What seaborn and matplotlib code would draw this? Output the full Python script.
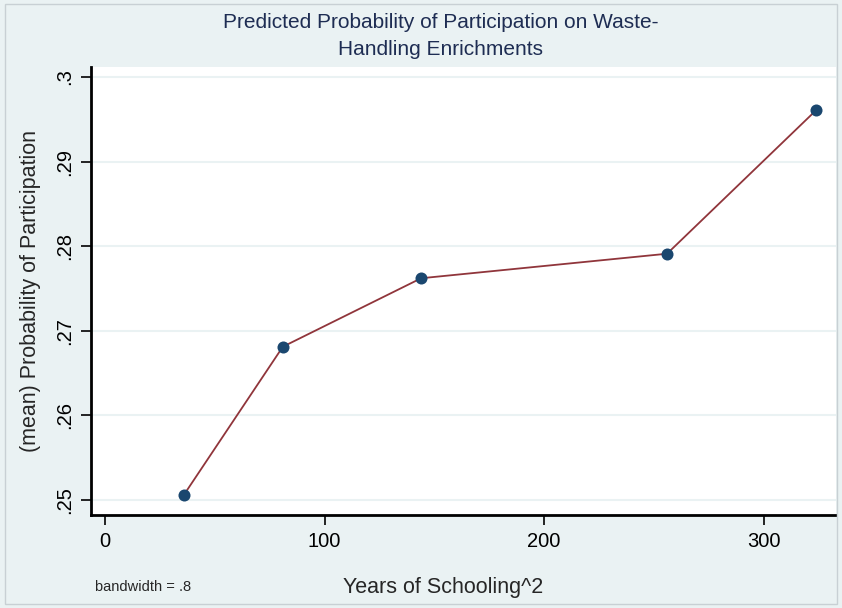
import seaborn as sns
import numpy as np
import pandas as pd
import matplotlib.pyplot as plt
from matplotlib.patches import Rectangle

# data
years_sq = [36, 81, 144, 256, 324]
prob = [0.2506, 0.2681, 0.2762, 0.2791, 0.2961]

x_ticks = [0, 100, 200, 300]
y_ticks = [0.25, 0.26, 0.27, 0.28, 0.29, 0.30]
y_tick_labels = ['.25', '.26', '.27', '.28', '.29', '.3']

BG = '#EAF2F3'
NAVY = '#1A476F'
MAROON = '#90353B'
TITLE = '#1E2D53'


def main():
    sns.set_style('white')
    plt.rcParams['font.family'] = ['Liberation Sans', 'DejaVu Sans']

    fig = plt.figure(figsize=(8.42, 6.08), dpi=100, facecolor=BG)
    ax = fig.add_axes([0.108, 0.153, 0.885, 0.737])
    ax.set_facecolor('white')

    df = pd.DataFrame({'x': years_sq, 'y': prob})
    sns.lineplot(data=df, x='x', y='y', ax=ax, color=MAROON, linewidth=1.3,
                 zorder=2)
    sns.scatterplot(data=df, x='x', y='y', ax=ax, color=NAVY, s=75,
                    edgecolor=NAVY, linewidth=0, zorder=3)

    ax.set_xlim(-6.4, 333)
    ax.set_ylim(0.2482, 0.3012)
    ax.set_xticks(x_ticks)
    ax.set_yticks(y_ticks)
    ax.set_yticklabels(y_tick_labels, rotation=90, va='center')
    ax.tick_params(axis='both', direction='out', length=7, width=1.2,
                   colors='black', labelsize=14.5, pad=5,
                   bottom=True, left=True)

    ax.grid(axis='y', color=BG, linewidth=1.5)
    ax.set_axisbelow(True)
    for side in ['top', 'right']:
        ax.spines[side].set_visible(False)
    for side in ['left', 'bottom']:
        ax.spines[side].set_color('black')
        ax.spines[side].set_linewidth(2)

    ax.set_xlabel('')
    ax.set_ylabel('(mean) Probability of Participation', fontsize=15.5,
                  labelpad=10)

    fig.text(443 / 842, 1 - 587 / 608, 'Years of Schooling^2', fontsize=15.5,
             ha='center', va='center')
    fig.text(441 / 842, 1 - 36 / 608,
             'Predicted Probability of Participation on Waste-\nHandling Enrichments',
             fontsize=15, color=TITLE, ha='center', va='center',
             linespacing=1.5)

    fig.text(95 / 842, 1 - 587 / 608, 'bandwidth = .8', fontsize=10.5,
             va='center', ha='left')

    fig.patches.append(Rectangle((5 / 842, 4 / 608), 832 / 842, 600 / 608,
                                 transform=fig.transFigure, fill=False,
                                 edgecolor='#C8D0D4', linewidth=1))

    plt.savefig('out.png', dpi=100, facecolor=BG)


if __name__ == '__main__':
    main()
